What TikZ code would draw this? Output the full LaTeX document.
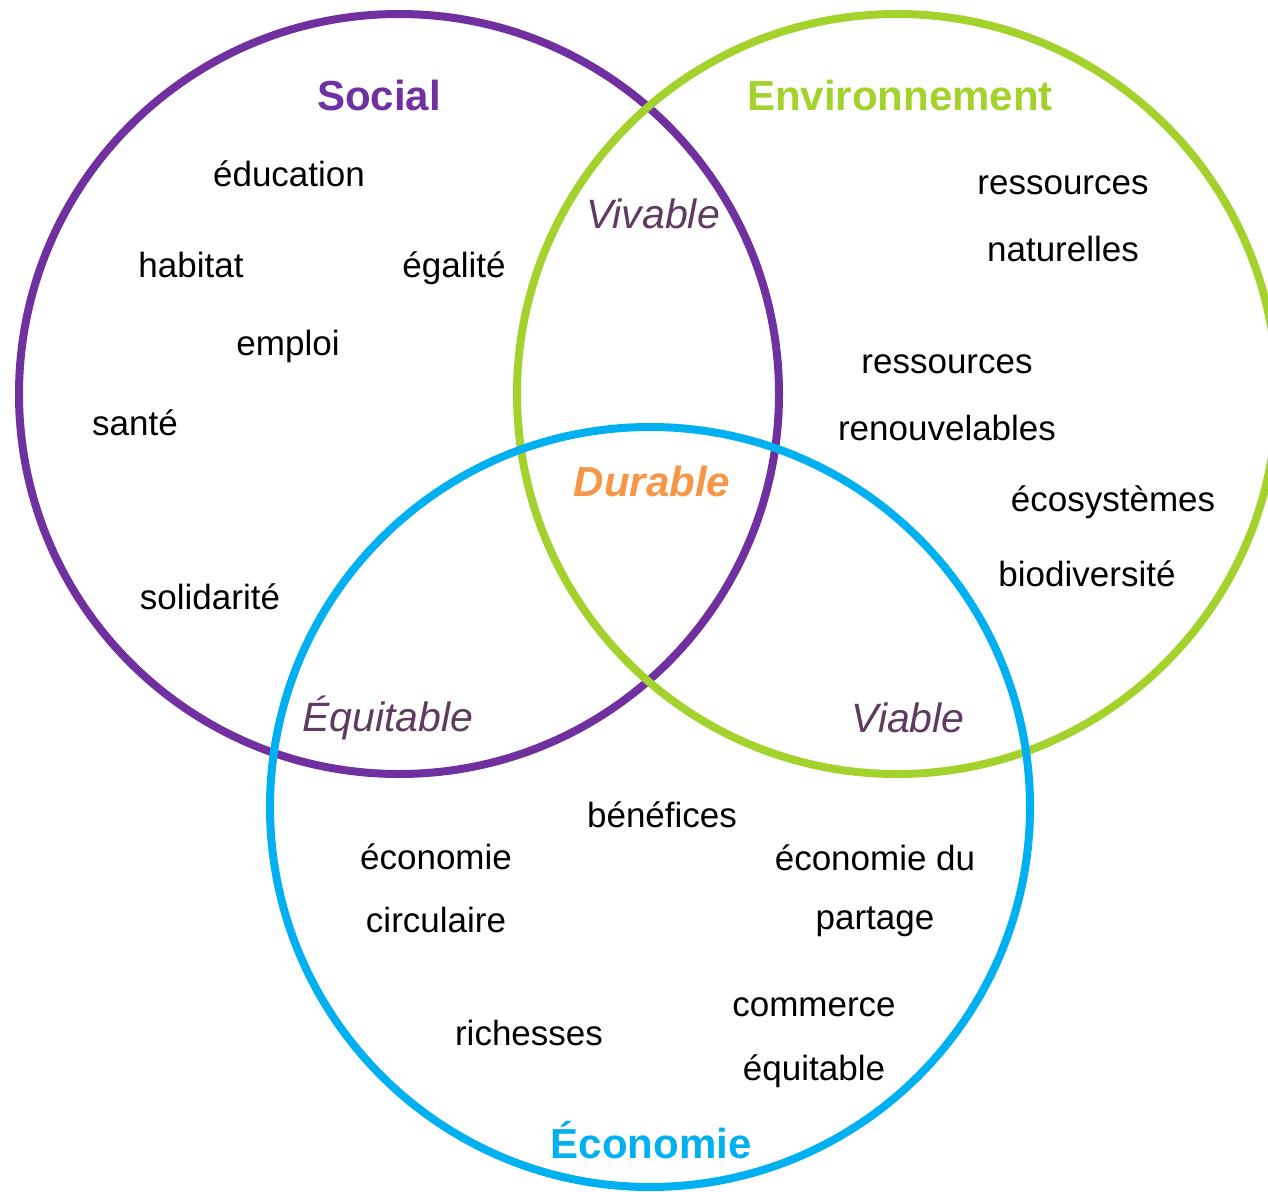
\documentclass[tikz,border=0pt]{standalone}
\usepackage{fontspec}
\setmainfont{Liberation Sans}
\definecolor{cpurple}{HTML}{7030A0}
\definecolor{cgreen}{HTML}{A3D22C}
\definecolor{cblue}{HTML}{00B0F0}
\definecolor{corange}{HTML}{F79646}
\definecolor{cplum}{HTML}{5F3B5F}
\tikzset{
  ring/.style={line width=8pt},
  word/.style={inner sep=0pt, font=\fontsize{35}{42}\selectfont},
  title/.style={inner sep=0pt, font=\fontsize{42}{50}\selectfont\bfseries},
  zone/.style={inner sep=0pt, text=cplum, font=\fontsize{41}{49}\selectfont\itshape},
}
\begin{document}
\begin{tikzpicture}[x=1pt,y=-1pt]
\useasboundingbox (0,0) rectangle (1268,1191);
\fill[white] (0,0) rectangle (1268,1191);
\clip (0,0) rectangle (1268,1191);
\coordinate (cs) at (399,394);
\coordinate (ce) at (897,394);
\coordinate (cc) at (650,807);
\draw[ring, cpurple] (cs) circle[radius=380pt];
\draw[ring, cgreen] (ce) circle[radius=380pt];
\draw[ring, cblue] (cc) circle[radius=380pt];

\node[title, text=cpurple] (social) at (379,95) {Social};
\node[title, text=cgreen] (env) at (900,95) {Environnement};
\node[title, text=cblue] (eco) at (651,1140) {Économie};

\node[zone] (vivable) at (653,214) {Vivable};
\node[zone, font=\fontsize{42}{50}\selectfont\bfseries\itshape, text=corange] (durable) at (652,481) {Durable};
\node[zone] (equitable) at (388,718) {Équitable};
\node[zone] (viable) at (908,718) {Viable};

\node[word] (w1) at (289,174) {éducation};
\node[word] (w2) at (191,265) {habitat};
\node[word] (w3) at (454,268) {égalité};
\node[word] (w4) at (288,346) {emploi};
\node[word] (w5) at (135,423) {santé};
\node[word] (w6) at (210,597) {solidarité};

\node[word] (w7) at (1063,185) {ressources};
\node[word] (w8) at (1063,249) {naturelles};
\node[word] (w9) at (947,364) {ressources};
\node[word] (w10) at (947,428) {renouvelables};
\node[word] (w11) at (1113,502) {écosystèmes};
\node[word] (w12) at (1087,574) {biodiversité};

\node[word] (w13) at (662,815) {bénéfices};
\node[word] (w14) at (436,857) {économie};
\node[word] (w15) at (436,920) {circulaire};
\node[word] (w16) at (875,858) {économie du};
\node[word] (w17) at (875,922) {partage};
\node[word] (w18) at (814,1007) {commerce};
\node[word] (w19) at (814,1071) {équitable};
\node[word] (w20) at (529,1033) {richesses};
\end{tikzpicture}
\end{document}
